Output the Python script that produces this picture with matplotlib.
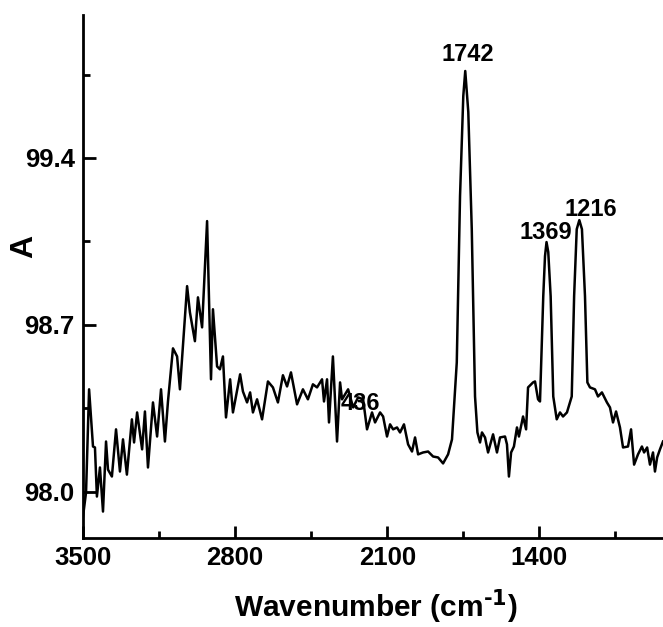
import matplotlib
matplotlib.use("Agg")
import matplotlib.pyplot as plt
from matplotlib.ticker import FixedLocator

FONT = ['Liberation Sans Narrow', 'Liberation Sans', 'DejaVu Sans']
plt.rcParams['font.family'] = FONT
plt.rcParams['font.weight'] = 'bold'
plt.rcParams['mathtext.fontset'] = 'custom'
plt.rcParams['mathtext.rm'] = 'Liberation Sans Narrow:bold'
plt.rcParams['mathtext.default'] = 'rm'

wavenumber = [3500, 3486, 3472, 3454, 3445, 3436, 3422, 3408, 3394, 3385, 3367, 3348,
              3330, 3316, 3298, 3275, 3265, 3251, 3228, 3215, 3201, 3178, 3159, 3141,
              3123, 3109, 3086, 3067, 3054, 3021, 3008, 2985, 2971, 2952, 2929, 2911,
              2902, 2883, 2870, 2856, 2842, 2823, 2810, 2777, 2764, 2745, 2731, 2718,
              2699, 2676, 2649, 2626, 2603, 2580, 2561, 2543, 2515, 2488, 2465, 2442,
              2423, 2400, 2391, 2377, 2368, 2350, 2331, 2317, 2308, 2280, 2257, 2234,
              2211, 2193, 2170, 2156, 2133, 2119, 2101, 2087, 2073, 2055, 2041, 2023,
              2004, 1986, 1972, 1958, 1935, 1912, 1889, 1866, 1843, 1820, 1802, 1780,
              1765, 1750, 1741, 1727, 1711, 1696, 1685, 1673, 1664, 1650, 1636, 1613,
              1595, 1581, 1558, 1549, 1540, 1530, 1517, 1503, 1494, 1475, 1461, 1452,
              1429, 1420, 1406, 1397, 1382, 1374, 1367, 1359, 1348, 1336, 1320, 1305,
              1291, 1273, 1251, 1240, 1228, 1216, 1204, 1190, 1179, 1167, 1144, 1130,
              1112, 1089, 1075, 1061, 1047, 1029, 1015, 992, 978, 964, 946, 928, 918,
              904, 891, 877, 868, 858, 845, 831]
absorb = [97.895, 97.996, 98.429, 98.189, 98.185, 97.979, 98.101, 97.916, 98.210, 98.092,
          98.063, 98.261, 98.084, 98.219, 98.071, 98.303, 98.206, 98.332, 98.177, 98.336,
          98.101, 98.374, 98.231, 98.429, 98.210, 98.378, 98.601, 98.567, 98.429, 98.862,
          98.752, 98.631, 98.815, 98.689, 99.135, 98.471, 98.765, 98.525, 98.513, 98.567,
          98.311, 98.471, 98.332, 98.492, 98.420, 98.374, 98.416, 98.332, 98.387, 98.303,
          98.462, 98.437, 98.374, 98.488, 98.441, 98.500, 98.366, 98.429, 98.387, 98.450,
          98.437, 98.471, 98.378, 98.471, 98.290, 98.567, 98.210, 98.458, 98.387, 98.429,
          98.353, 98.395, 98.387, 98.261, 98.332, 98.290, 98.332, 98.315, 98.231, 98.282,
          98.261, 98.269, 98.248, 98.282, 98.198, 98.168, 98.227, 98.156, 98.164, 98.168,
          98.147, 98.143, 98.118, 98.156, 98.219, 98.542, 99.240, 99.660, 99.765, 99.593,
          99.101, 98.399, 98.248, 98.206, 98.248, 98.227, 98.164, 98.240, 98.164, 98.227,
          98.231, 98.198, 98.063, 98.164, 98.189, 98.269, 98.231, 98.315, 98.261, 98.437,
          98.458, 98.462, 98.387, 98.378, 98.820, 98.988, 99.047, 99.005, 98.820, 98.399,
          98.303, 98.332, 98.315, 98.332, 98.399, 98.820, 99.101, 99.139, 99.101, 98.820,
          98.458, 98.437, 98.429, 98.399, 98.416, 98.374, 98.353, 98.290, 98.336, 98.269,
          98.185, 98.189, 98.261, 98.113, 98.156, 98.189, 98.164, 98.185, 98.113, 98.164,
          98.084, 98.143, 98.177, 98.210]

peak_labels = ["1742", "1369", "1216", "436"]
peak_x = [1727, 1369, 1162, 2225]
peak_y = [99.835, 99.089, 99.185, 98.37]

fig = plt.figure(figsize=(6.63, 6.27), dpi=100)
ax = fig.add_axes([83 / 663, 89 / 627, 580 / 663, 523 / 627])
ax.plot(wavenumber, absorb, color='black', lw=1.8, solid_joinstyle='round')
ax.set_xlim(3500, 831)
ax.set_ylim(97.805, 100.0)

for s in ['top', 'right']:
    ax.spines[s].set_visible(False)
for s in ['left', 'bottom']:
    ax.spines[s].set_linewidth(2.0)

ax.xaxis.set_major_locator(FixedLocator([3500, 2800, 2100, 1400]))
ax.xaxis.set_minor_locator(FixedLocator([3150, 2450, 1750, 1050]))
ax.yaxis.set_major_locator(FixedLocator([98.0, 98.7, 99.4]))
ax.yaxis.set_minor_locator(FixedLocator([98.35, 99.05, 99.75]))
ax.tick_params(which='major', direction='in', length=9, width=2, labelsize=18.5, pad=6)
ax.tick_params(which='minor', direction='in', length=5, width=2)
for lab in ax.get_xticklabels() + ax.get_yticklabels():
    lab.set_fontweight('bold')

ax.set_xlabel(r'Wavenumber (cm$^{\text{-1}}$)', fontsize=21.5, fontweight='bold', va='center')
ax.set_ylabel('A', fontsize=23, fontweight='bold', va='center')
ax.xaxis.set_label_coords(0.505, -0.132)
ax.yaxis.set_label_coords(-0.102, 0.558)

for t, x, y in zip(peak_labels, peak_x, peak_y):
    ax.text(x, y, t, ha='center', va='center', fontsize=17, fontweight='bold')

fig.savefig('out.png', dpi=100)
